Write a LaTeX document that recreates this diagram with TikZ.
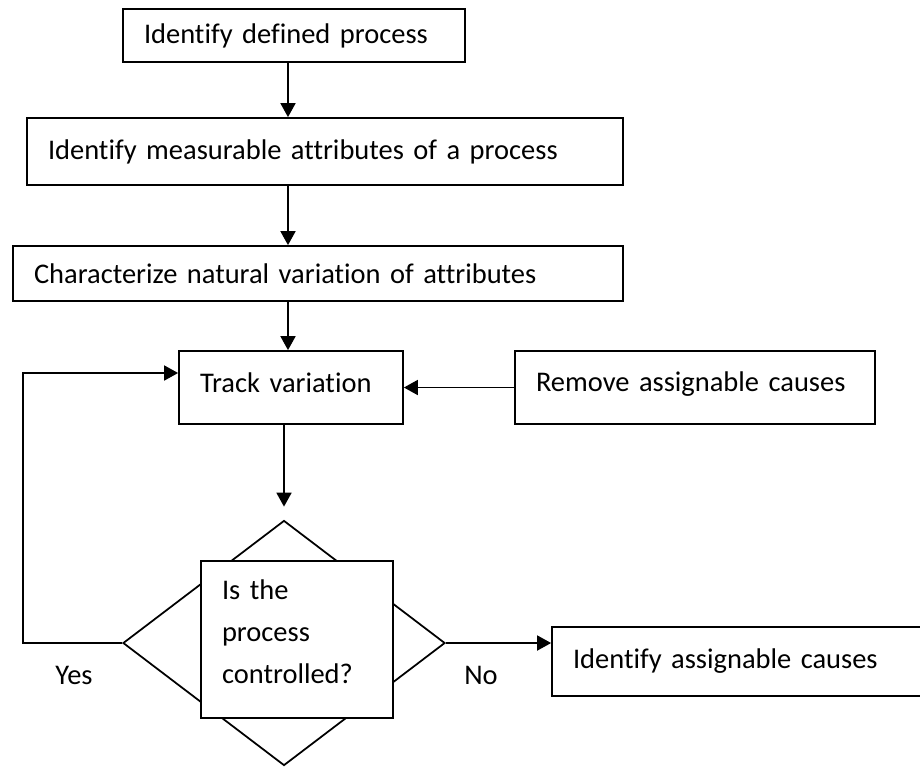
\documentclass[tikz,border=0pt]{standalone}
\usepackage{fontspec}
\setmainfont{Carlito}[Ligatures=NoCommon]
\usetikzlibrary{arrows.meta,shapes.geometric}

\begin{document}
\begin{tikzpicture}[>={Triangle[length=0.28cm,width=0.3cm]}, line width=1pt,
  procbox/.style={draw, inner xsep=0.42cm, inner ysep=0pt, align=left, font=\fontsize{16.2}{23.9}\selectfont},
  lbl/.style={font=\fontsize{16.2}{23.9}\selectfont}]
  \useasboundingbox (0,0) rectangle (18.4,-15.32);
  % left column of steps
  \node[procbox, text width=6.0cm, minimum height=1.06cm] (defined) at (5.88,-0.71) {Identify defined process};
  \node[procbox, text width=11.08cm, minimum height=1.34cm] (measurable) at (6.50,-3.03) {Identify measurable attributes of a process};
  \node[procbox, text width=11.36cm, minimum height=1.10cm] (natural) at (6.36,-5.47) {Characterize natural variation of attributes};
  \node[procbox, text width=3.64cm, minimum height=1.46cm, text depth=0.2cm] (track) at (5.82,-7.75) {Track variation};
  \node[procbox, text width=6.36cm, minimum height=1.46cm, text depth=0.25cm] (remove) at (13.90,-7.75) {Remove assignable causes};
  % decision, with the question box laid over the diamond
  \node[draw, diamond, minimum width=6.44cm, minimum height=4.90cm, inner sep=0pt] (decision) at (5.68,-12.86) {};
  \node[procbox, fill=white, text width=3.0cm, minimum height=3.14cm, text depth=2.0cm] (question) at (5.94,-12.79) {Is the\\process\\controlled?};
  \node[procbox, text width=6.62cm, minimum height=1.38cm] (causes) at (14.77,-13.23) {Identify assignable causes};
  % connectors
  \coordinate (spine) at (5.76,0);
  \draw[->] (defined.south -| spine) -- (measurable.north -| spine);
  \draw[->] (measurable.south -| spine) -- (natural.north -| spine);
  \draw[->] (natural.south -| spine) -- (track.north -| spine);
  \draw[->, shorten >=0.26cm] (track.south -| decision.north) -- (decision.north);
  \draw[->] (remove.west) -- (track.east);
  \draw[->] (decision.east) -- (decision.east -| causes.west);
  \coordinate (yesturn) at (0.46,-12.86);
  \draw[->] (decision.west) -- (yesturn) |- ([yshift=0.29cm]track.west);
  \node[lbl] (yes) at (1.48,-13.50) {Yes};
  \node[lbl] (no) at (9.62,-13.50) {No};
\end{tikzpicture}
\end{document}
